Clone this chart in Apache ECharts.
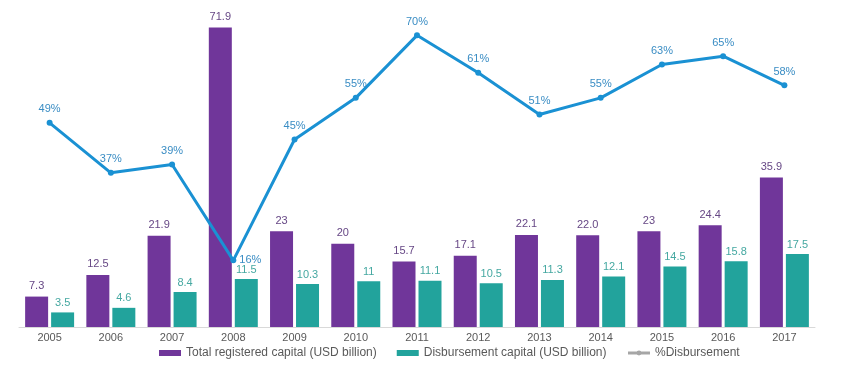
<!DOCTYPE html>
<html>
<head>
<meta charset="utf-8">
<script src="https://cdn.jsdelivr.net/npm/echarts@6/dist/echarts.min.js"></script>
<style>
  html, body { margin: 0; padding: 0; background: #fff; }
  #chart { width: 850px; height: 376px; }
</style>
</head>
<body>
<div id="chart"></div>
<script>
const years = ['2005','2006','2007','2008','2009','2010','2011','2012','2013','2014','2015','2016','2017'];
const registered = [7.3, 12.5, 21.9, 71.9, 23, 20, 15.7, 17.1, 22.1, 22.0, 23, 24.4, 35.9];
const registeredLabels = ['7.3','12.5','21.9','71.9','23','20','15.7','17.1','22.1','22.0','23','24.4','35.9'];
const disbursed = [3.5, 4.6, 8.4, 11.5, 10.3, 11, 11.1, 10.5, 11.3, 12.1, 14.5, 15.8, 17.5];
const disbursedLabels = ['3.5','4.6','8.4','11.5','10.3','11','11.1','10.5','11.3','12.1','14.5','15.8','17.5'];
const pctDisbursed = [49, 37, 39, 16, 45, 55, 70, 61, 51, 55, 63, 65, 58];

const PURPLE = '#70369a';
const TEAL = '#22a39c';
const BLUE = '#1a91d3';
const FONT = '"Liberation Sans", Arial, sans-serif';

const chart = echarts.init(document.getElementById('chart'), null, { renderer: 'canvas' });

chart.setOption({
  animation: false,
  backgroundColor: '#ffffff',
  textStyle: { fontFamily: FONT },
  grid: { left: 19, right: 35, top: 27, bottom: 49, containLabel: false },
  legend: {
    left: 154,
    top: 342,
    itemGap: 20,
    itemWidth: 22,
    itemHeight: 6,
    textStyle: { color: '#595959', fontSize: 12, fontFamily: FONT },
    data: [
      { name: 'Total registered capital (USD billion)', icon: 'rect' },
      { name: 'Disbursement capital (USD billion)', icon: 'rect' },
      { name: '%Disbursement', itemStyle: { color: '#a6a6a6' }, lineStyle: { color: '#a6a6a6', width: 3 } }
    ]
  },
  xAxis: {
    type: 'category',
    data: years,
    axisLine: { show: true, lineStyle: { color: '#d9d9d9', width: 1 } },
    axisTick: { show: false },
    axisLabel: { color: '#595959', fontSize: 11, margin: 5, fontFamily: FONT },
    splitLine: { show: false }
  },
  yAxis: [
    { type: 'value', min: 0, max: 72, show: false, splitLine: { show: false } },
    { type: 'value', min: 0, max: 72, show: false, splitLine: { show: false } }
  ],
  series: [
    {
      name: 'Total registered capital (USD billion)',
      type: 'bar',
      yAxisIndex: 0,
      data: registered,
      barCategoryGap: '20%',
      barGap: '13%',
      itemStyle: { color: PURPLE },
      label: {
        show: true,
        position: 'top',
        distance: 5,
        color: '#664785',
        fontSize: 11,
        fontFamily: FONT,
        formatter: p => registeredLabels[p.dataIndex]
      }
    },
    {
      name: 'Disbursement capital (USD billion)',
      type: 'bar',
      yAxisIndex: 0,
      data: disbursed,
      barCategoryGap: '20%',
      barGap: '13%',
      itemStyle: { color: TEAL },
      label: {
        show: true,
        position: 'top',
        distance: 4,
        color: '#45a8a1',
        fontSize: 11,
        fontFamily: FONT,
        formatter: p => disbursedLabels[p.dataIndex]
      }
    },
    {
      name: '%Disbursement',
      type: 'line',
      yAxisIndex: 1,
      data: pctDisbursed.map((v, i) => i === 3
        ? { value: v, label: { position: 'right', distance: 3 } }
        : v),
      z: 5,
      symbol: 'circle',
      symbolSize: 6,
      lineStyle: { color: BLUE, width: 3 },
      itemStyle: { color: BLUE },
      label: {
        show: true,
        position: 'top',
        distance: 5,
        color: '#3a8dc4',
        fontSize: 11,
        fontFamily: FONT,
        formatter: p => p.value + '%'
      }
    }
  ]
});
</script>
</body>
</html>
